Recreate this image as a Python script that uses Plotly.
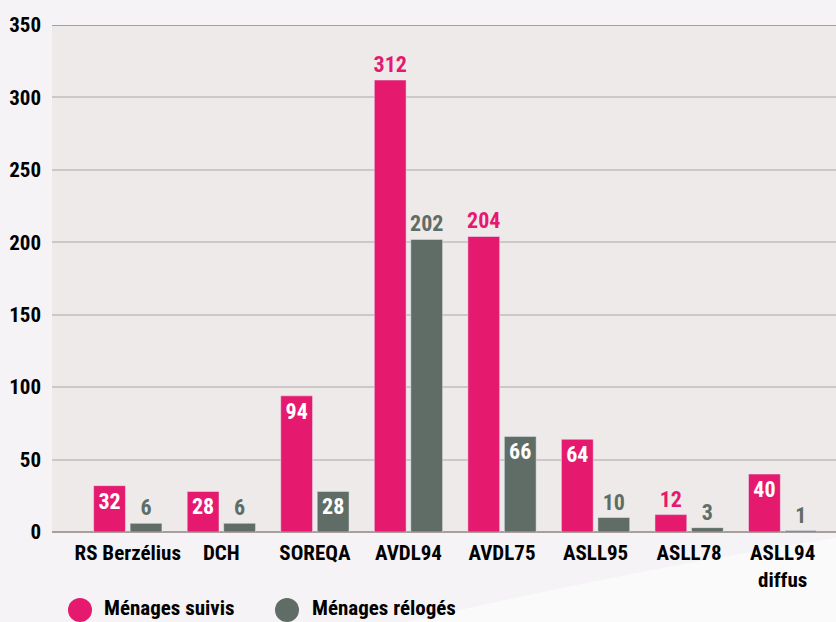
import plotly.graph_objects as go

categories = ["RS Berzélius", "DCH", "SOREQA", "AVDL94", "AVDL75", "ASLL95", "ASLL78", "ASLL94<br>diffus"]
suivis = [32, 28, 94, 312, 204, 64, 12, 40]
reloges = [6, 6, 28, 202, 66, 10, 3, 1]
pos_suivis = ["inside", "inside", "inside", "outside", "outside", "inside", "outside", "inside"]
pos_reloges = ["outside", "outside", "inside", "outside", "inside", "outside", "outside", "outside"]
y_ticks = [0, 50, 100, 150, 200, 250, 300, 350]
legend_names = ["Ménages suivis", "Ménages rélogés"]

PINK = "#e5196e"
GREY = "#5f6d66"
FONT = "Roboto Condensed, Liberation Sans Narrow, Arial Narrow, Liberation Sans, sans-serif"

x_idx = list(range(len(categories)))

fig = go.Figure()
fig.add_trace(go.Bar(
    x=x_idx, y=suivis, name=legend_names[0], marker_color=PINK,
    width=0.34, offset=-0.365, text=[str(v) for v in suivis], textposition=pos_suivis,
    insidetextanchor="end", constraintext="none", cliponaxis=False,
    insidetextfont=dict(color="white", size=22, family=FONT, weight="bold"),
    outsidetextfont=dict(color=PINK, size=22, family=FONT, weight="bold"),
    showlegend=False,
))
fig.add_trace(go.Bar(
    x=x_idx, y=reloges, name=legend_names[1], marker_color=GREY,
    width=0.34, offset=0.025, text=[str(v) for v in reloges], textposition=pos_reloges,
    insidetextanchor="end", constraintext="none", cliponaxis=False,
    insidetextfont=dict(color="white", size=22, family=FONT, weight="bold"),
    outsidetextfont=dict(color=GREY, size=22, family=FONT, weight="bold"),
    showlegend=False,
))

def px_x(px):
    return (px - 52) / 784

def px_y(py):
    return (532 - py) / 507

shapes = [
    # decorative white swoosh
    dict(type="path", xref="paper", yref="paper", layer="below",
         path=f"M {px_x(330)} {px_y(640)} Q {px_x(600)} {px_y(575)} {px_x(836)} {px_y(538)} L {px_x(836)} {px_y(640)} Z",
         fillcolor="#fbfafb", line_width=0),
    dict(type="line", xref="paper", yref="y", x0=0, x1=1, y0=350, y1=350,
         line=dict(color="#a89f9c", width=2)),
]
annotations = []
for (cx, tx, name, col) in [(80, 102, legend_names[0], PINK), (287, 310, legend_names[1], GREY)]:
    shapes.append(dict(type="circle", xref="paper", yref="paper",
                       x0=px_x(cx - 12), x1=px_x(cx + 12), y0=px_y(622), y1=px_y(598),
                       fillcolor=col, line_width=0))
    annotations.append(dict(xref="paper", yref="paper", x=px_x(tx), y=px_y(608),
                            xanchor="left", yanchor="middle", showarrow=False, text=name,
                            font=dict(size=21, family=FONT, weight="bold", color="black")))

fig.update_layout(
    width=836, height=622,
    margin=dict(l=52, r=0, t=25, b=90),
    paper_bgcolor="#f5f3f6", plot_bgcolor="#eeeae9",
    font=dict(family=FONT, size=21, color="black"),
    showlegend=False,
    xaxis=dict(
        tickmode="array", tickvals=x_idx, ticktext=categories,
        range=[-0.81, 7.57], showgrid=False, zeroline=False,
        tickfont=dict(size=21, family=FONT, weight="bold"),
        ticks="", ticklabelstandoff=6,
    ),
    yaxis=dict(
        range=[0, 350], tickvals=y_ticks, showgrid=True, gridcolor="#cdc8c8", gridwidth=1.5,
        zeroline=True, zerolinecolor="#a89f9c", zerolinewidth=2,
        tickfont=dict(size=21, family=FONT, weight="bold"),
        ticklabelstandoff=10, showline=False,
    ),
    shapes=shapes,
    annotations=annotations,
)
fig.write_html("out.html", config={"displayModeBar": False},
               post_script="document.body.style.margin='0';document.body.style.background='#f5f3f6';")
